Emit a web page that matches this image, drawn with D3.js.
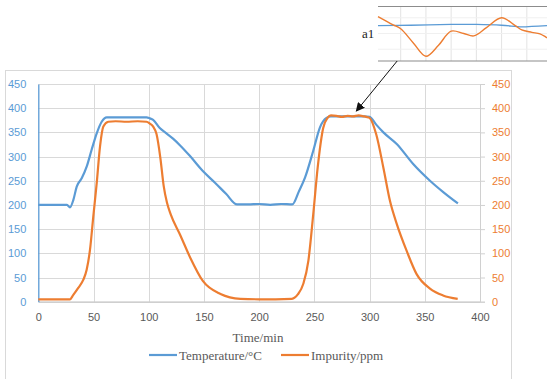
<!DOCTYPE html>
<html>
<head>
<meta charset="utf-8">
<script src="https://cdn.jsdelivr.net/npm/d3@7"></script>
<style>
  html, body { margin: 0; padding: 0; background: #fff; }
  svg { display: block; }
</style>
</head>
<body>
<svg id="chart" width="547" height="379"></svg>
<script>
// ---- data ----
const xTicks = [0, 50, 100, 150, 200, 250, 300, 350, 400];
const yTicks = [0, 50, 100, 150, 200, 250, 300, 350, 400, 450];

const tempTime = [0, 10, 20, 26, 28.7, 31.7, 34.8, 39.3, 43.8, 48.3, 52.9, 57.4, 62, 70, 80, 90, 98, 101, 104, 110, 116, 122, 128, 137, 149, 160, 170, 180, 190, 200, 210, 220, 230, 236, 241.6, 249, 255, 261, 265, 275, 285, 295, 300, 306, 312.5, 324.6, 339.7, 354.7, 367, 380];
const tempValues = [200, 200, 200, 200, 195, 210, 238, 255, 279, 314, 348, 372, 381, 381, 381, 381, 381, 379, 376, 359, 348, 337, 324, 302, 270, 246, 223, 201, 201, 202, 200, 202, 201, 228, 257, 312, 360, 380, 383, 383, 383, 383, 382, 366, 350, 326, 284, 250, 226, 203];

const impTime = [0, 10, 20, 28.7, 31.7, 36, 40.7, 43.8, 46.8, 49.8, 52.9, 55.9, 58.9, 63.4, 70, 80, 90, 98, 101, 104, 107, 110.5, 113.5, 116.5, 120, 128.5, 137.6, 149, 165, 183, 200, 215, 229.6, 235, 240, 244.6, 249, 253, 258, 262, 265, 270, 275, 280, 285, 290, 295, 297, 300, 306, 312.5, 318.5, 324.6, 333.6, 342.6, 354.7, 366.5, 379.8];
const impValues = [5, 5, 5, 5, 14, 28, 45, 66, 107, 176, 245, 321, 362, 372, 373, 372, 373, 372, 368, 362, 347, 298, 240, 205, 180, 138, 91, 43, 16, 6, 5, 5, 6, 15, 37, 85, 181, 277, 359, 380, 385, 384, 382, 384, 383, 385, 383, 382, 380, 346, 277, 208, 161, 105, 57, 27, 13, 6];

// inset "a1" (magnified plateau)
const insetTime = [265.5, 268.5, 270, 272.5, 275, 277.5, 280, 282.5, 284.5, 287, 290, 292.7, 294, 296, 297.6, 299];
const insetImp = [385.3, 383.2, 382.2, 378.6, 375.2, 378, 381.6, 381.0, 380.4, 382.5, 385.0, 383, 381.9, 381.3, 380.9, 379.9];
const insetTempTime = [265.5, 272, 280, 285, 290, 294, 296, 299];
const insetTemp = [383, 383.1, 383.3, 383.3, 383.1, 382.7, 382.8, 383];
const insetGridX = [270, 275, 280, 285, 290, 295];
const insetGridY = [385, 381, 377];

const legendItems = ["Temperature/°C", "Impurity/ppm"];
const colors = ["#5B9BD5", "#ED7D31"];

// ---- drawing ----
const svg = d3.select("#chart");
const x = d3.scaleLinear().domain([0, 400]).range([38.3, 480]);
const y = d3.scaleLinear().domain([0, 450]).range([301.7, 84]);

// outer chart box
svg.append("rect").attr("x", 5.5).attr("y", 70.5).attr("width", 506).attr("height", 340)
  .attr("fill", "#fff").attr("stroke", "#d9d9d9").attr("stroke-width", 1);

// gridlines
const grid = svg.append("g");
grid.selectAll("line.h").data(yTicks.filter(d => d > 0)).join("line")
  .attr("x1", x(0)).attr("x2", x(400))
  .attr("y1", d => Math.round(y(d)) + 0.5).attr("y2", d => Math.round(y(d)) + 0.5)
  .attr("stroke", "#d9d9d9").attr("stroke-width", 1);
grid.selectAll("line.v").data(xTicks.filter(d => d > 0 && d < 400)).join("line")
  .attr("y1", y(0)).attr("y2", y(450))
  .attr("x1", d => Math.round(x(d)) + 0.5).attr("x2", d => Math.round(x(d)) + 0.5)
  .attr("stroke", "#d9d9d9").attr("stroke-width", 1);

// bottom axis
const xAxis = svg.append("g").attr("transform", `translate(0,${y(0)})`)
  .call(d3.axisBottom(x).tickValues(xTicks).tickSize(0).tickPadding(12));
xAxis.select(".domain").attr("stroke", "#bfbfbf").attr("stroke-width", 1.3);
xAxis.selectAll("text").attr("fill", "#595959").attr("font-family", "Liberation Sans, Arial, sans-serif").attr("font-size", "11px");

// left axis
const yAxisL = svg.append("g").attr("transform", `translate(${x(0)},0)`)
  .call(d3.axisLeft(y).tickValues(yTicks).tickSize(0).tickPadding(12));
yAxisL.select(".domain").attr("stroke", colors[0]).attr("stroke-width", 1.3);
yAxisL.selectAll("text").attr("fill", colors[0]).attr("font-family", "Liberation Sans, Arial, sans-serif").attr("font-size", "11px");

// right axis
const yAxisR = svg.append("g").attr("transform", `translate(${x(400)},0)`)
  .call(d3.axisRight(y).tickValues(yTicks).tickSize(5).tickPadding(7));
yAxisR.select(".domain").attr("stroke", "#d0d0d0").attr("stroke-width", 1);
yAxisR.selectAll(".tick line").attr("stroke", "#d0d0d0");
yAxisR.selectAll("text").attr("fill", colors[1]).attr("font-family", "Liberation Sans, Arial, sans-serif").attr("font-size", "11px");

// series
const line = d3.line().curve(d3.curveMonotoneX);
svg.append("path")
  .attr("d", line(tempTime.map((t, i) => [x(t), y(tempValues[i])])))
  .attr("fill", "none").attr("stroke", colors[0]).attr("stroke-width", 2.2).attr("stroke-linejoin", "round");
svg.append("path")
  .attr("d", line(impTime.map((t, i) => [x(t), y(impValues[i])])))
  .attr("fill", "none").attr("stroke", colors[1]).attr("stroke-width", 2.2).attr("stroke-linejoin", "round");

// axis title
svg.append("text").attr("x", 258).attr("y", 342).attr("text-anchor", "middle")
  .attr("font-family", "Liberation Serif, Times New Roman, serif").attr("font-size", "13px")
  .attr("fill", "#595959").text("Time/min");

// legend
const legendX = [149, 281];
const lg = svg.append("g");
legendItems.forEach((name, i) => {
  lg.append("line").attr("x1", legendX[i]).attr("x2", legendX[i] + 28)
    .attr("y1", 355).attr("y2", 355).attr("stroke", colors[i]).attr("stroke-width", 2.2);
  lg.append("text").attr("x", legendX[i] + 30).attr("y", 359.5)
    .attr("font-family", "Liberation Serif, Times New Roman, serif").attr("font-size", "13px")
    .attr("fill", "#595959").text(name);
});

// inset a1
const ix = d3.scaleLinear().domain([265.5, 299]).range([378, 547]);
const iy = d3.scaleLinear().domain([374, 388]).range([61, 6]);
const ig = svg.append("g");
ig.append("rect").attr("x", 378).attr("y", 6).attr("width", 169).attr("height", 55).attr("fill", "#fff");
ig.selectAll("line.gx").data(insetGridX).join("line")
  .attr("x1", d => ix(d)).attr("x2", d => ix(d)).attr("y1", 6).attr("y2", 61)
  .attr("stroke", "#e3e3e3").attr("stroke-width", 1);
ig.selectAll("line.gy").data(insetGridY).join("line")
  .attr("x1", 378).attr("x2", 547).attr("y1", d => iy(d)).attr("y2", d => iy(d))
  .attr("stroke", "#f0f0f0").attr("stroke-width", 1);
ig.append("line").attr("x1", 378).attr("x2", 547).attr("y1", 6.5).attr("y2", 6.5).attr("stroke", "#8c8c8c").attr("stroke-width", 1.2);
ig.append("line").attr("x1", 378).attr("x2", 547).attr("y1", 61).attr("y2", 61).attr("stroke", "#8c8c8c").attr("stroke-width", 1.2);
const iline = d3.line().curve(d3.curveCatmullRom.alpha(0.5));
ig.append("path").attr("d", iline(insetTempTime.map((t, i) => [ix(t), iy(insetTemp[i])])))
  .attr("fill", "none").attr("stroke", colors[0]).attr("stroke-width", 1.3);
ig.append("path").attr("d", iline(insetTime.map((t, i) => [ix(t), iy(insetImp[i])])))
  .attr("fill", "none").attr("stroke", colors[1]).attr("stroke-width", 1.4);
ig.append("text").attr("x", 362).attr("y", 38)
  .attr("font-family", "Liberation Serif, Times New Roman, serif").attr("font-size", "13px")
  .attr("fill", "#222").text("a1");

// arrow from inset to plateau
const defs = svg.append("defs");
defs.append("marker").attr("id", "arr").attr("viewBox", "0 0 10 10").attr("refX", 9).attr("refY", 5)
  .attr("markerWidth", 9).attr("markerHeight", 9).attr("orient", "auto-start-reverse")
  .append("path").attr("d", "M0,0 L10,5 L0,10 z").attr("fill", "#111");
const tgtT = 288, tgtV = 394;
svg.append("line")
  .attr("x1", ix(269.3)).attr("y1", iy(374))
  .attr("x2", x(tgtT)).attr("y2", y(tgtV))
  .attr("stroke", "#111").attr("stroke-width", 1)
  .attr("marker-end", "url(#arr)");
</script>
</body>
</html>
